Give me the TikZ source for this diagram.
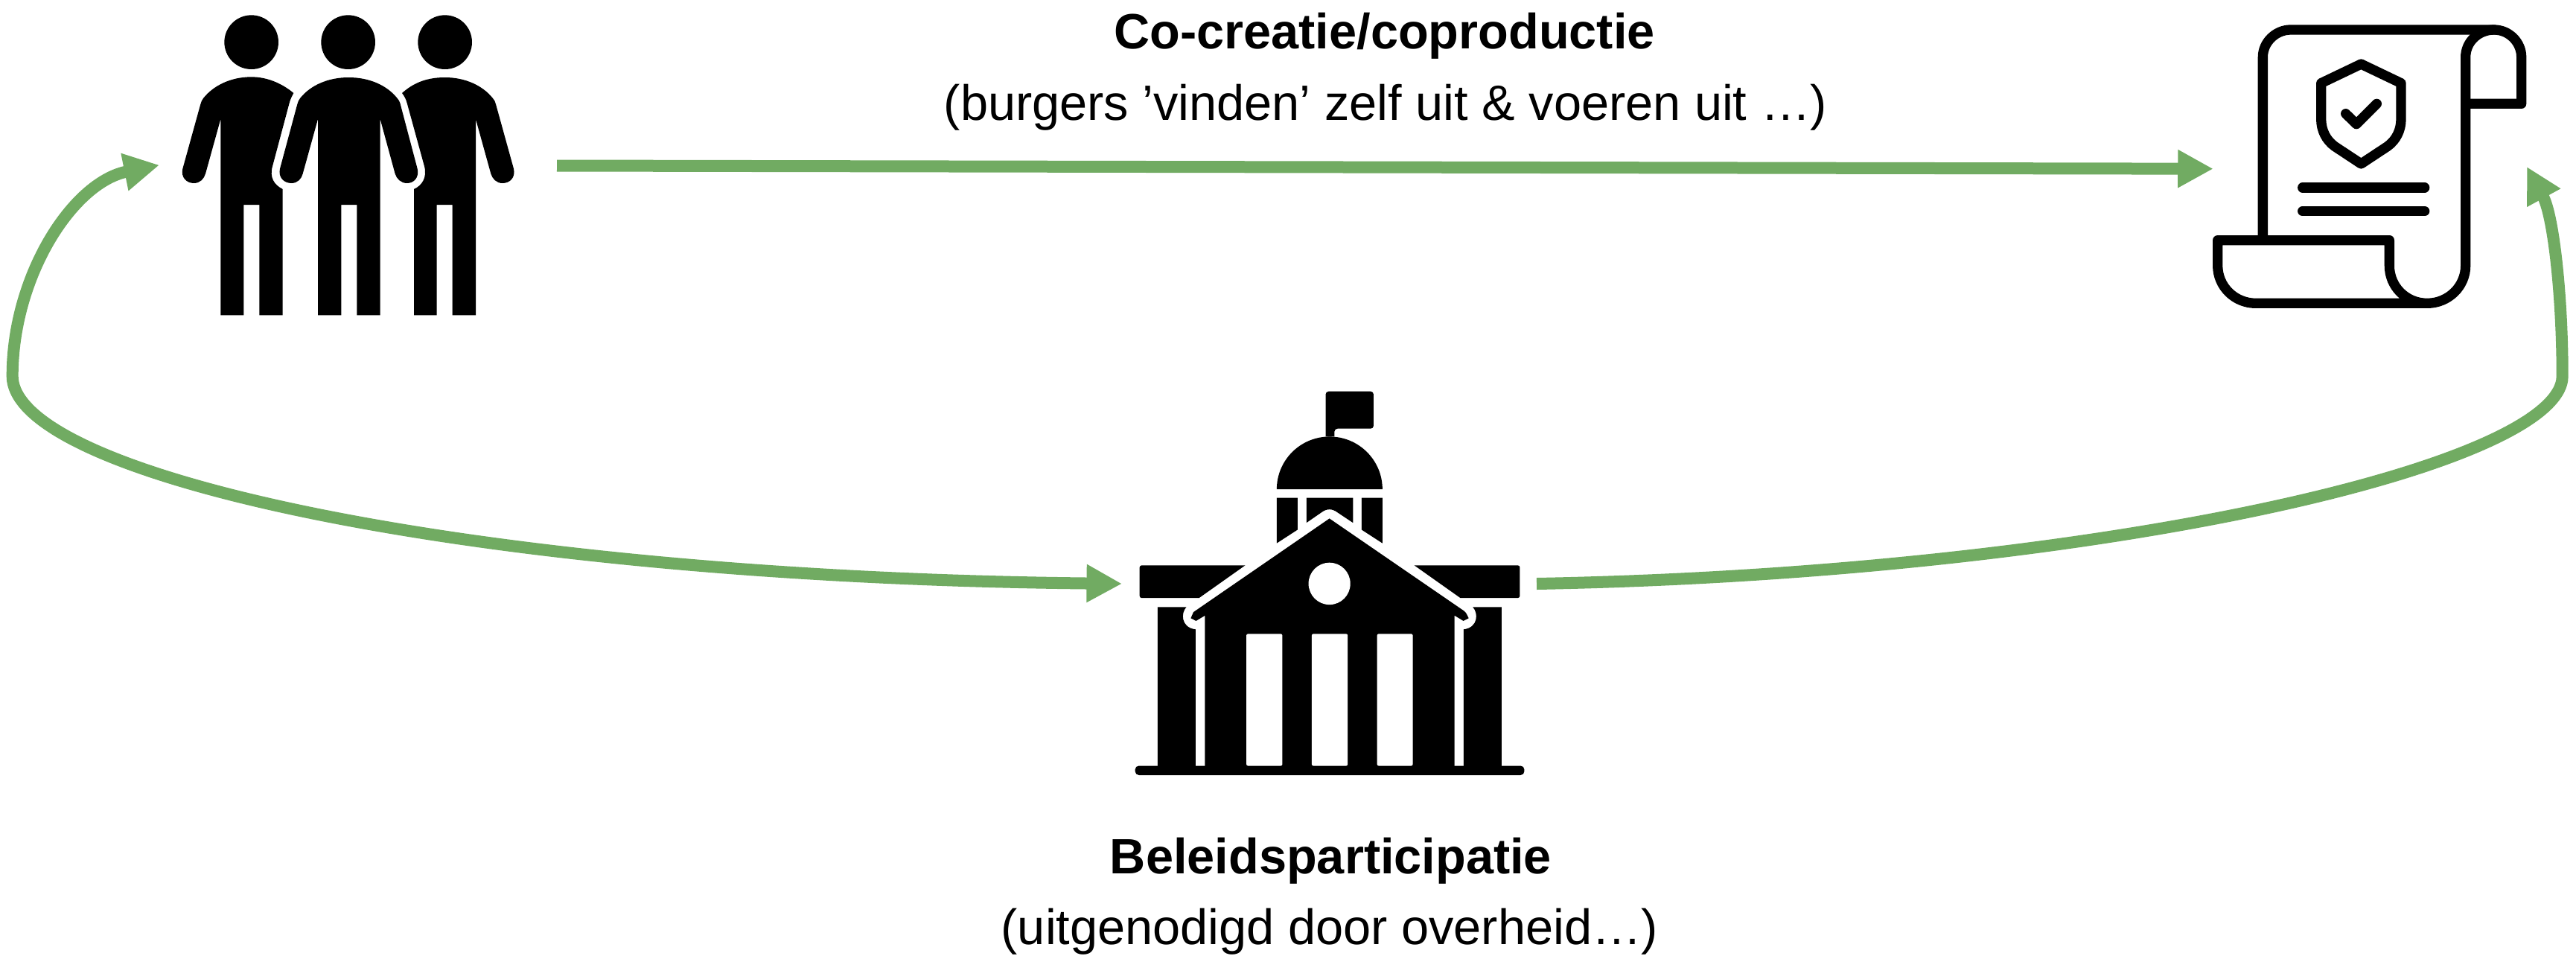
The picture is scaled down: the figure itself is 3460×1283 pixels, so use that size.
\documentclass[tikz,border=0pt]{standalone}
\usepackage{fontspec}
\setmainfont{Liberation Sans}
\usetikzlibrary{arrows.meta}
\definecolor{flowgreen}{HTML}{71AB62}
\tikzset{
  flow/.style={draw=flowgreen,line width=16pt,>={Triangle[length=47.5pt,width=48pt]}},
  heading/.style={anchor=base,inner sep=0pt,font=\fontsize{66.7}{80}\selectfont\bfseries},
  subline/.style={anchor=base,inner sep=0pt,font=\fontsize{66.7}{80}\selectfont},
  outline/.style={draw=black,line width=13.3pt,line join=round,line cap=round}
}
\begin{document}
\begin{tikzpicture}[x=1pt,y=-1pt]
\path[use as bounding box,fill=white] (0,0) rectangle (3460,1283);
% labels
\node[heading] (cotitle) at (1859.5,65) {Co-creatie/coproductie};
\node[subline] (cosub) at (1861,161) {(burgers ’vinden’ zelf uit \& voeren uit …)};
\node[heading] (beltitle) at (1787.5,1173) {Beleidsparticipatie};
\node[subline] (belsub) at (1786,1268) {(uitgenodigd door overheid…)};
% people
\begin{scope}[shift={(200,0)},scale=0.33333]
\fill (413,170) circle[radius=109];
\fill (803,170) circle[radius=109];
\fill (1193,170) circle[radius=109];
\fill (805,312) .. controls (720,312) and (650,345) .. (610,395) .. controls (604,403) and (600,410) .. (598,420) -- (528,680) .. controls (520,715) and (545,738) .. (574,738) .. controls (600,738) and (615,720) .. (620,700) -- (681,480) -- (681,1270) -- (775,1270) -- (775,825) -- (838,825) -- (838,1270) -- (932,1270) -- (932,480) -- (992,700) .. controls (998,720) and (1015,738) .. (1040,738) .. controls (1068,738) and (1090,715) .. (1082,680) -- (1012,415) .. controls (1010,408) and (1006,402) .. (1000,395) .. controls (960,345) and (890,312) .. (805,312) -- cycle;
\fill (413,310) .. controls (330,310) and (260,345) .. (220,395) .. controls (214,403) and (210,410) .. (208,420) -- (136,680) .. controls (128,715) and (152,738) .. (181,738) .. controls (207,738) and (222,720) .. (228,700) -- (289,480) -- (289,1270) -- (382,1270) -- (382,825) -- (445,825) -- (445,1270) -- (539,1270) -- (539,762) .. controls (505,745) and (485,715) .. (498,670) -- (566,415) .. controls (570,400) and (576,388) .. (583,375) .. controls (535,335) and (475,310) .. (413,310) -- cycle;
\fill (1193,312) .. controls (1110,312) and (1060,340) .. (1020,375) .. controls (1030,388) and (1036,400) .. (1040,415) -- (1110,670) .. controls (1122,715) and (1100,748) .. (1068,762) -- (1068,1270) -- (1160,1270) -- (1160,825) -- (1223,825) -- (1223,1270) -- (1317,1270) -- (1317,480) -- (1378,700) .. controls (1384,720) and (1400,738) .. (1425,738) .. controls (1455,738) and (1478,715) .. (1470,680) -- (1398,420) .. controls (1396,410) and (1392,403) .. (1385,395) .. controls (1345,345) and (1275,312) .. (1193,312) -- cycle;
\end{scope}
% document
\begin{scope}[shift={(2940,10)},scale=0.33333]
\draw[outline] (298,925) -- (298,200) .. controls (298,140) and (350,90) .. (410,90) -- (1230,90) .. controls (1290,90) and (1340,140) .. (1340,200) -- (1340,388) -- (1115,388);
\draw[outline] (1230,90) .. controls (1165,90) and (1115,140) .. (1115,200) -- (1115,1040) .. controls (1115,1125) and (1045,1192) .. (960,1192) -- (270,1192) .. controls (185,1192) and (116,1125) .. (116,1040) -- (116,938) -- (808,938) -- (808,1040) .. controls (808,1125) and (875,1192) .. (960,1192);
\draw[outline] (694,228) -- (855,305) -- (855,450) .. controls (855,495) and (835,535) .. (800,560) -- (694,630) -- (588,560) .. controls (553,535) and (533,495) .. (533,450) -- (533,305) -- cycle;
\draw[outline] (632,428) -- (675,470) -- (757,388);
\draw[outline] (458,726) -- (950,726);
\draw[outline] (458,821) -- (950,821);
\end{scope}
% building
\begin{scope}[shift={(1480,500)},xscale=0.3954,yscale=0.3571]
\fill (760,242) [rounded corners=4pt] -- (760,72) -- (923,72) -- (923,212) -- (790,212) [sharp corners] -- (790,242) -- cycle;
\fill (594,440) arc[start angle=180,end angle=360,x radius=179.5,y radius=198] -- cycle;
\fill (594,472) -- (665,472) -- (665,592) -- (594,643) -- cycle;
\fill (953,472) -- (882,472) -- (882,592) -- (953,643) -- cycle;
\fill (695,472) -- (853,472) -- (853,566) -- (800,527) .. controls (782,512) and (764,512) .. (746,527) -- (695,566) -- cycle;
\fill (330,849) [rounded corners=3pt] -- (128,849) -- (128,726) [sharp corners] -- (487,726) -- cycle;
\fill (1218,849) [rounded corners=3pt] -- (1420,849) -- (1420,726) [sharp corners] -- (1061,726) -- cycle;
\fill (189,883) -- (287,883) .. controls (268,905) and (268,960) .. (318,967) -- (318,1490) -- (189,1490) -- cycle;
\fill (1358,883) -- (1260,883) .. controls (1279,905) and (1279,960) .. (1229,967) -- (1229,1490) -- (1358,1490) -- cycle;
\fill (773,550) [rounded corners=3pt] -- (1236,902) [sharp corners] -- (1246,925) -- (1228,935) -- (1198,915) -- (1198,1490) -- (350,1490) -- (350,915) -- (320,935) -- (302,925) -- (311,902) -- cycle;
\fill[rounded corners=5pt] (113,1480) rectangle (1435,1515);
\fill[white] (773,795) circle[x radius=71,y radius=79];
\fill[white,rounded corners=2pt] (491,1480) -- (491,984) -- (613,984) -- (613,1480) -- cycle;
\fill[white,rounded corners=2pt] (713,1480) -- (713,984) -- (835,984) -- (835,1480) -- cycle;
\fill[white,rounded corners=2pt] (935,1480) -- (935,984) -- (1056,984) -- (1056,1480) -- cycle;
\end{scope}
% connector ends
\coordinate (topstart) at (748,222.5);
\coordinate (topend) at (2972.7,226.7);
\coordinate (lefttip) at (214,221.7);
\coordinate (leftbend) at (16.7,505);
\coordinate (lefttipb) at (1507,784);
\coordinate (rightstart) at (2064,784);
\coordinate (rightbend) at (3441.7,505);
\coordinate (righttip) at (3394,224);
% connectors
\draw[flow,->] (topstart) -- (topend);
\draw[flow,<->] (lefttip) .. controls (98,245) and (16.7,370) .. (leftbend) .. controls (16.7,640) and (640,775) .. (lefttipb);
\draw[flow,->] (rightstart) .. controls (2820,770) and (3441.7,625) .. (rightbend) .. controls (3441.7,400) and (3430,290) .. (righttip);
\end{tikzpicture}
\end{document}
